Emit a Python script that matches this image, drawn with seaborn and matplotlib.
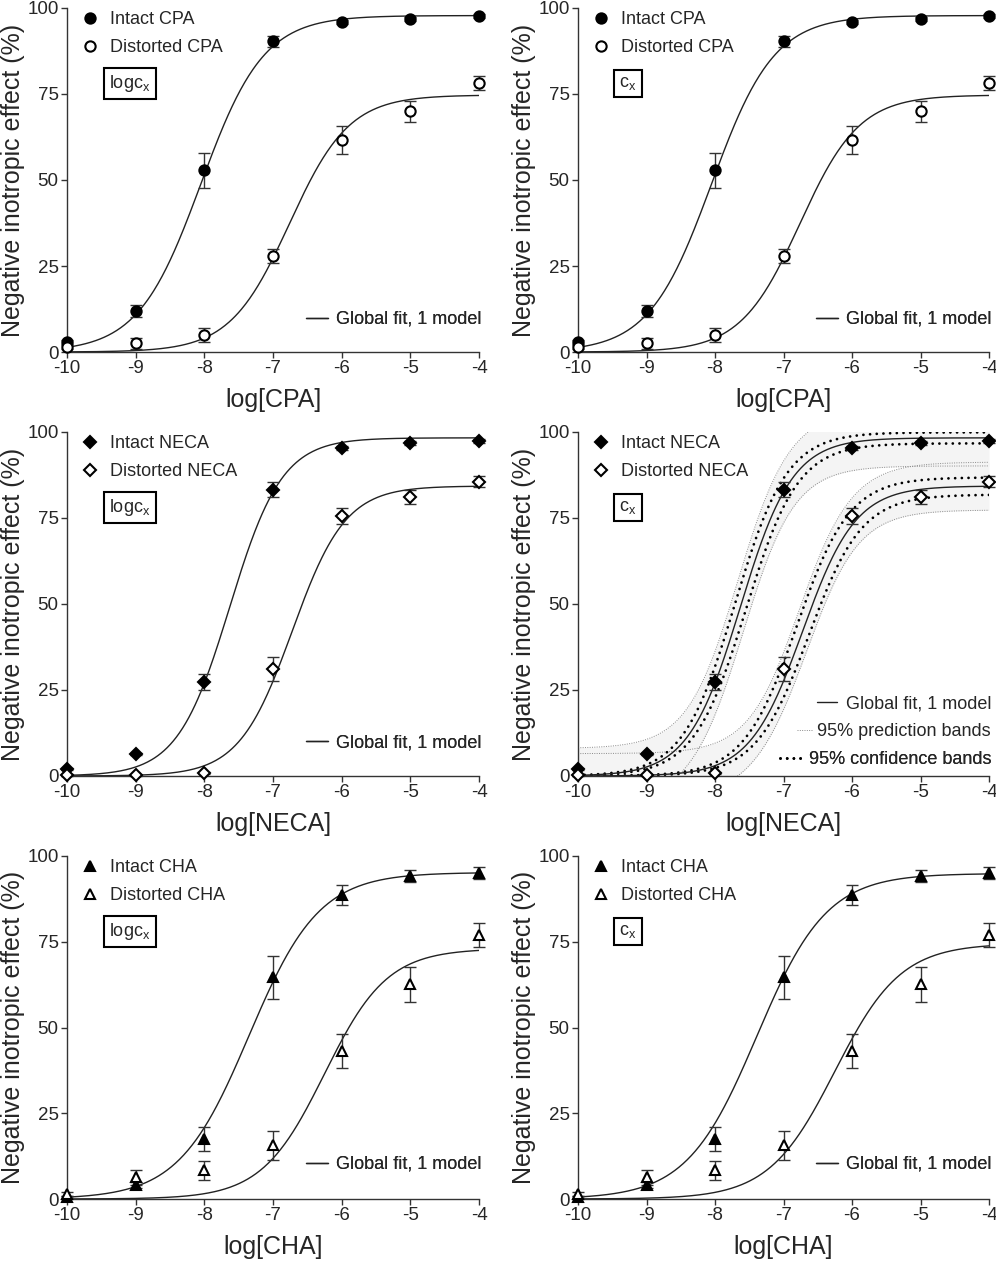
import numpy as np
import pandas as pd
import matplotlib
matplotlib.use('Agg')
import matplotlib.pyplot as plt
import seaborn as sns
from matplotlib.lines import Line2D

sns.set_theme(style='ticks')
plt.rcParams['font.family'] = ['Liberation Sans', 'DejaVu Sans']
plt.rcParams['mathtext.fontset'] = 'custom'
plt.rcParams['mathtext.rm'] = 'Liberation Sans'
plt.rcParams['mathtext.it'] = 'Liberation Sans:italic'
plt.rcParams['axes.unicode_minus'] = False

# --- data (mean, SEM) ---
log_conc = [-10, -9, -8, -7, -6, -5, -4]

cpa_intact = [2.8, 12.0, 52.8, 90.3, 95.9, 96.8, 97.7]
cpa_intact_err = [0.6, 1.8, 5.0, 1.5, 0.5, 0.5, 0.5]
cpa_distorted = [1.4, 2.5, 5.0, 27.8, 61.6, 70.0, 78.2]
cpa_distorted_err = [0.5, 1.5, 2.0, 2.0, 4.0, 3.0, 2.0]

neca_intact = [1.9, 6.5, 27.3, 83.2, 95.3, 96.8, 97.4]
neca_intact_err = [0.3, 0.3, 2.3, 2.2, 0.5, 0.5, 0.5]
neca_distorted = [0.3, 0.2, 0.9, 31.1, 75.6, 81.2, 85.6]
neca_distorted_err = [0.2, 0.2, 0.3, 3.4, 2.2, 2.0, 1.7]

cha_intact = [0.5, 4.1, 17.5, 64.6, 88.7, 94.1, 95.1]
cha_intact_err = [0.3, 1.0, 3.4, 6.3, 2.9, 1.8, 1.7]
cha_distorted = [1.5, 6.3, 8.4, 15.7, 43.2, 62.6, 77.0]
cha_distorted_err = [0.5, 2.3, 2.8, 4.2, 5.0, 5.1, 3.5]

# --- global fit parameters (top, logEC50, hill slope) ---
cpa_intact_fit = [97.8, -8.05, 0.95]
cpa_distorted_fit = [74.7, -6.76, 1.0]
neca_intact_fit = [98.3, -7.63, 1.14]
neca_distorted_fit = [84.3, -6.72, 1.12]
cha_intact_fit_log = [95.2, -7.35, 0.85]
cha_distorted_fit_log = [73.0, -6.25, 0.95]
cha_intact_fit_c = [94.9, -7.39, 0.85]
cha_distorted_fit_c = [74.5, -6.25, 0.90]

# band parameters for the NECA c_x panel: (d_top, d_logEC50, prediction sd*t)
neca_intact_band = [1.6, 0.08, 8.0]
neca_distorted_band = [2.5, 0.09, 6.5]

xs = np.linspace(-10, -4, 400)


def hill(x, top, logec50, slope):
    return top / (1 + 10 ** (slope * (logec50 - x)))


INK = '#222222'
PRED = dict(color='#8a8a8a', lw=0.7, ls=(0, (1, 1.4)))
CONF = dict(color='black', lw=2.0, ls=(0, (0.01, 2.4)), dash_capstyle='round')


def small_legend(ax, handle, text, y, hlen, pad):
    leg = ax.legend([handle], [text], loc='lower right',
                    bbox_to_anchor=(1.005, y), frameon=False, fontsize=13,
                    handlelength=hlen, handletextpad=pad, borderpad=0,
                    borderaxespad=0)
    ax.add_artist(leg)


def draw_panel(ax, name, marker, msize, intact, intact_err, dist, dist_err,
               fit_i, fit_d, model, leg_y, bands=None):
    if bands is not None:
        for fit, band in zip([fit_i, fit_d], bands):
            top, ec, sl = fit
            dt, dc, p = band
            up_c = hill(xs, top + dt, ec - dc, sl)
            lo_c = hill(xs, top - dt, ec + dc, sl)
            mid = hill(xs, top, ec, sl)
            half = np.sqrt(p ** 2 + ((up_c - lo_c) / 2) ** 2)
            ax.fill_between(xs, mid - half, mid + half, color='#f4f4f4',
                            lw=0, zorder=0)
            for yy in (mid - half, mid + half):
                ax.plot(xs, yy, zorder=1, **PRED)
            for yy in (up_c, lo_c):
                ax.plot(xs, yy, zorder=2, **CONF)

    for fit in (fit_i, fit_d):
        df = pd.DataFrame({'x': xs, 'y': hill(xs, *fit)})
        sns.lineplot(data=df, x='x', y='y', ax=ax, color=INK, lw=1.0,
                     legend=False, zorder=2.5)

    for vals, err, face in ((intact, intact_err, 'black'),
                            (dist, dist_err, 'white')):
        ax.errorbar(log_conc, vals, yerr=err, fmt='none', ecolor='#333333',
                    elinewidth=1.0, capsize=4.5, capthick=1.0,
                    clip_on=False, zorder=3)
        ax.plot(log_conc, vals, ls='none', marker=marker, ms=msize,
                mfc=face, mec='black', mew=1.5, clip_on=False, zorder=4)

    ax.set_xlim(-10, -4)
    ax.set_ylim(0, 100)
    ax.set_xticks(log_conc)
    ax.set_yticks([0, 25, 50, 75, 100])
    sns.despine(ax=ax)
    for sp in ('left', 'bottom'):
        ax.spines[sp].set_color('#333333')
        ax.spines[sp].set_linewidth(1.0)
    ax.tick_params(axis='both', labelsize=13.5, length=4, width=1,
                   color='#333333', pad=2)
    ax.set_xlabel(f'log[{name}]', fontsize=18, labelpad=8)
    ax.set_ylabel('Negative inotropic effect (%)', fontsize=18, labelpad=2)

    h = [Line2D([], [], ls='none', marker=marker, ms=msize, mfc='black',
                mec='black', mew=1.5),
         Line2D([], [], ls='none', marker=marker, ms=msize, mfc='white',
                mec='black', mew=1.5)]
    leg = ax.legend(h, [f'Intact {name}', f'Distorted {name}'],
                    loc='upper left', bbox_to_anchor=(0.034, 0.99),
                    frameon=False, fontsize=13, handlelength=1.0,
                    handletextpad=0.6, labelspacing=0.6, borderpad=0,
                    borderaxespad=0)
    ax.add_artist(leg)

    if bands is None:
        small_legend(ax, Line2D([], [], color=INK, lw=1.0),
                     'Global fit, 1 model', leg_y, 1.25, 0.4)
    else:
        small_legend(ax, Line2D([], [], color=INK, lw=1.0),
                     'Global fit, 1 model', 0.185, 1.1, 0.5)
        small_legend(ax, Line2D([], [], **PRED),
                     '95% prediction bands', 0.104, 0.85, 0.3)
        small_legend(ax, Line2D([], [], **CONF),
                     '95% confidence bands', 0.022, 1.3, 0.3)

    label = r'logc$_\mathrm{x}$' if model == 'log' else r'c$_\mathrm{x}$'
    xpos = 0.153 if model == 'log' else 0.122
    ax.text(xpos, 0.78, label, transform=ax.transAxes, fontsize=13,
            ha='center', va='center',
            bbox=dict(boxstyle='square,pad=0.28', fc='white', ec='black',
                      lw=1.5))


fig = plt.figure(figsize=(9.96, 12.66), dpi=100)
W, H = 996, 1266
cols = [(67, 479), (578, 989)]
rows = [(8, 352), (432, 776), (856, 1199)]
axes = {}
for r, (t, b) in enumerate(rows):
    for c, (l, rr) in enumerate(cols):
        axes[(r, c)] = fig.add_axes([l / W, 1 - b / H, (rr - l) / W, (b - t) / H])

draw_panel(axes[(0, 0)], 'CPA', 'o', 7.4, cpa_intact, cpa_intact_err,
           cpa_distorted, cpa_distorted_err, cpa_intact_fit,
           cpa_distorted_fit, 'log', 0.070)
draw_panel(axes[(0, 1)], 'CPA', 'o', 7.4, cpa_intact, cpa_intact_err,
           cpa_distorted, cpa_distorted_err, cpa_intact_fit,
           cpa_distorted_fit, 'c', 0.070)
draw_panel(axes[(1, 0)], 'NECA', 'D', 6.0, neca_intact, neca_intact_err,
           neca_distorted, neca_distorted_err, neca_intact_fit,
           neca_distorted_fit, 'log', 0.072)
draw_panel(axes[(1, 1)], 'NECA', 'D', 6.0, neca_intact, neca_intact_err,
           neca_distorted, neca_distorted_err, neca_intact_fit,
           neca_distorted_fit, 'c', 0.072,
           bands=[neca_intact_band, neca_distorted_band])
draw_panel(axes[(2, 0)], 'CHA', '^', 7.2, cha_intact, cha_intact_err,
           cha_distorted, cha_distorted_err, cha_intact_fit_log,
           cha_distorted_fit_log, 'log', 0.076)
draw_panel(axes[(2, 1)], 'CHA', '^', 7.2, cha_intact, cha_intact_err,
           cha_distorted, cha_distorted_err, cha_intact_fit_c,
           cha_distorted_fit_c, 'c', 0.076)

fig.savefig('out.png', dpi=100)
